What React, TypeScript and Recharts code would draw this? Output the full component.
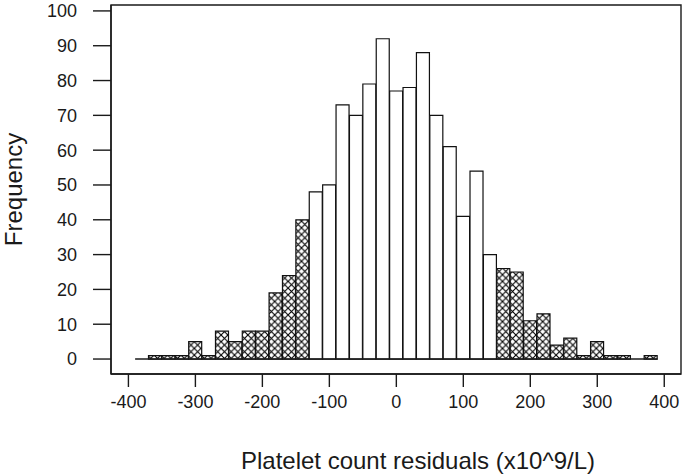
import { BarChart, Bar, XAxis, YAxis, Cell, ReferenceLine, ReferenceArea, Label } from 'recharts'

// histogram bins (centre of each 20-wide bin) and counts
const binCenters = [
  -380, -360, -340, -320, -300, -280, -260, -240, -220, -200, -180, -160, -140, -120, -100, -80, -60, -40, -20,
  0, 20, 40, 60, 80, 100, 120, 140, 160, 180, 200, 220, 240, 260, 280, 300, 320, 340, 360, 380,
]
const frequencies = [
  0, 1, 1, 1, 5, 1, 8, 5, 8, 8, 19, 24, 40, 48, 50, 73, 70, 79, 92,
  77, 78, 88, 70, 61, 41, 54, 30, 26, 25, 11, 13, 4, 6, 1, 5, 1, 1, 0, 1,
]
// tails drawn cross-hatched
const hatchedBins = [
  -380, -360, -340, -320, -300, -280, -260, -240, -220, -200, -180, -160, -140,
  160, 180, 200, 220, 240, 260, 280, 300, 320, 340, 360, 380,
]
const xTicks = [-400, -300, -200, -100, 0, 100, 200, 300, 400]
const yTicks = [0, 10, 20, 30, 40, 50, 60, 70, 80, 90, 100]

const binWidth = 20
const xDomain: [number, number] = [-426, 425]
const yDomain: [number, number] = [-4.3, 101.7]

const data = binCenters.map((x, i) => ({ x, count: frequencies[i] }))
const histStart = binCenters[0] - binWidth / 2
const histEnd = binCenters[binCenters.length - 1] + binWidth / 2

const ink = '#1a1a1a'
const font = '"Liberation Sans", Arial, sans-serif'

const XTitle = (props: any) => {
  const vb = props.viewBox
  return (
    <text
      x={vb.x + vb.width / 2 + 22}
      y={vb.y + 86}
      textAnchor="middle"
      dominantBaseline="central"
      fontSize={24}
      fill={ink}
      fontFamily={font}
    >
      Platelet count residuals (x10^9/L)
    </text>
  )
}

const YTitle = (props: any) => {
  const vb = props.viewBox
  const cx = vb.x + 13
  const cy = vb.y + vb.height / 2
  return (
    <text
      x={cx}
      y={cy}
      transform={`rotate(-90 ${cx} ${cy})`}
      textAnchor="middle"
      dominantBaseline="central"
      fontSize={24}
      fill={ink}
      fontFamily={font}
    >
      Frequency
    </text>
  )
}

export default function App() {
  return (
    <div style={{ position: 'absolute', left: 0, top: 0, background: '#fff' }}>
      <BarChart
        width={685}
        height={474}
        data={data}
        margin={{ top: 5, right: 4, left: 0, bottom: 0 }}
        barCategoryGap={0}
        barGap={0}
        style={{ fontFamily: font }}
      >
        <defs>
          <pattern id="xhatch" patternUnits="userSpaceOnUse" width={6.7} height={6.7}>
            <rect width={6.7} height={6.7} fill="#fff" />
            <path d="M0,0 L6.7,6.7 M6.7,0 L0,6.7" stroke="#000" strokeWidth={1.1} />
          </pattern>
        </defs>
        <XAxis
          dataKey="x"
          type="number"
          domain={xDomain}
          ticks={xTicks}
          allowDataOverflow
          height={100}
          tickSize={13}
          tickMargin={8}
          stroke={ink}
          strokeWidth={1.4}
          tick={{ fill: ink, fontSize: 18 }}
        >
          <Label content={XTitle} />
        </XAxis>
        <YAxis
          type="number"
          domain={yDomain}
          ticks={yTicks}
          allowDataOverflow
          width={111}
          tickSize={18}
          tickMargin={16}
          stroke={ink}
          strokeWidth={1.4}
          tick={{ fill: ink, fontSize: 18 }}
        >
          <Label content={YTitle} />
        </YAxis>
        {/* plot frame */}
        <ReferenceArea
          x1={xDomain[0]}
          x2={xDomain[1]}
          y1={yDomain[0]}
          y2={yDomain[1]}
          fill="none"
          fillOpacity={0}
          stroke={ink}
          strokeWidth={1.4}
          ifOverflow="visible"
        />
        <ReferenceLine
          segment={[
            { x: histStart, y: 0 },
            { x: histEnd, y: 0 },
          ]}
          stroke={ink}
          strokeWidth={1.4}
        />
        <Bar dataKey="count" isAnimationActive={false} stroke="#111" strokeWidth={1.2}>
          {data.map((d) => (
            <Cell key={d.x} fill={hatchedBins.includes(d.x) ? 'url(#xhatch)' : '#fff'} />
          ))}
        </Bar>
      </BarChart>
    </div>
  )
}
